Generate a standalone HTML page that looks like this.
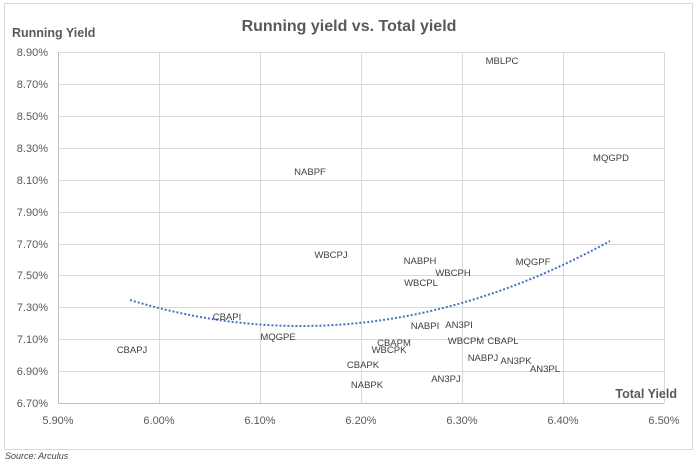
<!DOCTYPE html>
<html><head><meta charset="utf-8"><style>
body{margin:0;background:#fff;}
svg{display:block;font-family:"Liberation Sans",sans-serif;}
</style></head><body>
<svg width="698" height="464" viewBox="0 0 698 464">
<rect x="4.5" y="3.5" width="688" height="446" fill="#fff" stroke="#d9d9d9"/>
<g stroke="#d9d9d9" stroke-width="1">
<line x1="58" y1="52.5" x2="664" y2="52.5"/><line x1="58" y1="84.5" x2="664" y2="84.5"/>
<line x1="58" y1="116.5" x2="664" y2="116.5"/><line x1="58" y1="148.5" x2="664" y2="148.5"/>
<line x1="58" y1="180.5" x2="664" y2="180.5"/><line x1="58" y1="212.5" x2="664" y2="212.5"/>
<line x1="58" y1="244.5" x2="664" y2="244.5"/><line x1="58" y1="275.5" x2="664" y2="275.5"/>
<line x1="58" y1="307.5" x2="664" y2="307.5"/><line x1="58" y1="339.5" x2="664" y2="339.5"/>
<line x1="58" y1="371.5" x2="664" y2="371.5"/>
<line x1="159.5" y1="52" x2="159.5" y2="403"/><line x1="260.5" y1="52" x2="260.5" y2="403"/>
<line x1="361.5" y1="52" x2="361.5" y2="403"/><line x1="462.5" y1="52" x2="462.5" y2="403"/>
<line x1="563.5" y1="52" x2="563.5" y2="403"/><line x1="664.5" y1="52" x2="664.5" y2="403"/>
</g>
<g stroke="#bfbfbf"><line x1="58.5" y1="52" x2="58.5" y2="403"/><line x1="58" y1="403.5" x2="664" y2="403.5"/></g>
<path d="M130,300 Q370,373 610,241" fill="none" stroke="#4472C4" stroke-width="2" stroke-dasharray="2,2"/>
<text x="349" y="31" text-anchor="middle" font-size="16" font-weight="bold" fill="#595959">Running yield vs. Total yield</text>
<text x="12" y="37" font-size="12.5" font-weight="bold" fill="#595959">Running Yield</text>
<text x="677" y="398" text-anchor="end" font-size="12.5" font-weight="bold" fill="#595959">Total Yield</text>
<g font-size="11" fill="#595959" text-anchor="end">
<text x="48" y="56">8.90%</text><text x="48" y="88">8.70%</text><text x="48" y="120">8.50%</text>
<text x="48" y="152">8.30%</text><text x="48" y="184">8.10%</text><text x="48" y="216">7.90%</text>
<text x="48" y="248">7.70%</text><text x="48" y="279">7.50%</text><text x="48" y="311">7.30%</text>
<text x="48" y="343">7.10%</text><text x="48" y="375">6.90%</text><text x="48" y="407">6.70%</text>
</g>
<g font-size="11" fill="#595959" text-anchor="middle">
<text x="58" y="424">5.90%</text><text x="159" y="424">6.00%</text><text x="260" y="424">6.10%</text>
<text x="361" y="424">6.20%</text><text x="462" y="424">6.30%</text><text x="563" y="424">6.40%</text>
<text x="664" y="424">6.50%</text>
</g>
<g font-size="9.5" fill="#404040" text-anchor="middle">
<text x="502" y="64">MBLPC</text><text x="611" y="161">MQGPD</text><text x="310" y="175">NABPF</text>
<text x="331" y="258">WBCPJ</text><text x="420" y="264">NABPH</text><text x="453" y="276">WBCPH</text>
<text x="533" y="265">MQGPF</text><text x="421" y="286">WBCPL</text><text x="227" y="320">CBAPI</text>
<text x="425" y="329">NABPI</text><text x="459" y="328">AN3PI</text><text x="278" y="340">MQGPE</text>
<text x="394" y="346">CBAPM</text><text x="466" y="344">WBCPM</text><text x="503" y="344">CBAPL</text>
<text x="132" y="353">CBAPJ</text><text x="389" y="353">WBCPK</text><text x="483" y="361">NABPJ</text>
<text x="516" y="364">AN3PK</text><text x="363" y="368">CBAPK</text><text x="545" y="372">AN3PL</text>
<text x="446" y="382">AN3PJ</text><text x="367" y="388">NABPK</text>
</g>
<text x="5" y="459" font-size="9" font-style="italic" fill="#404040">Source: Arculus</text>
</svg>
</body></html>
